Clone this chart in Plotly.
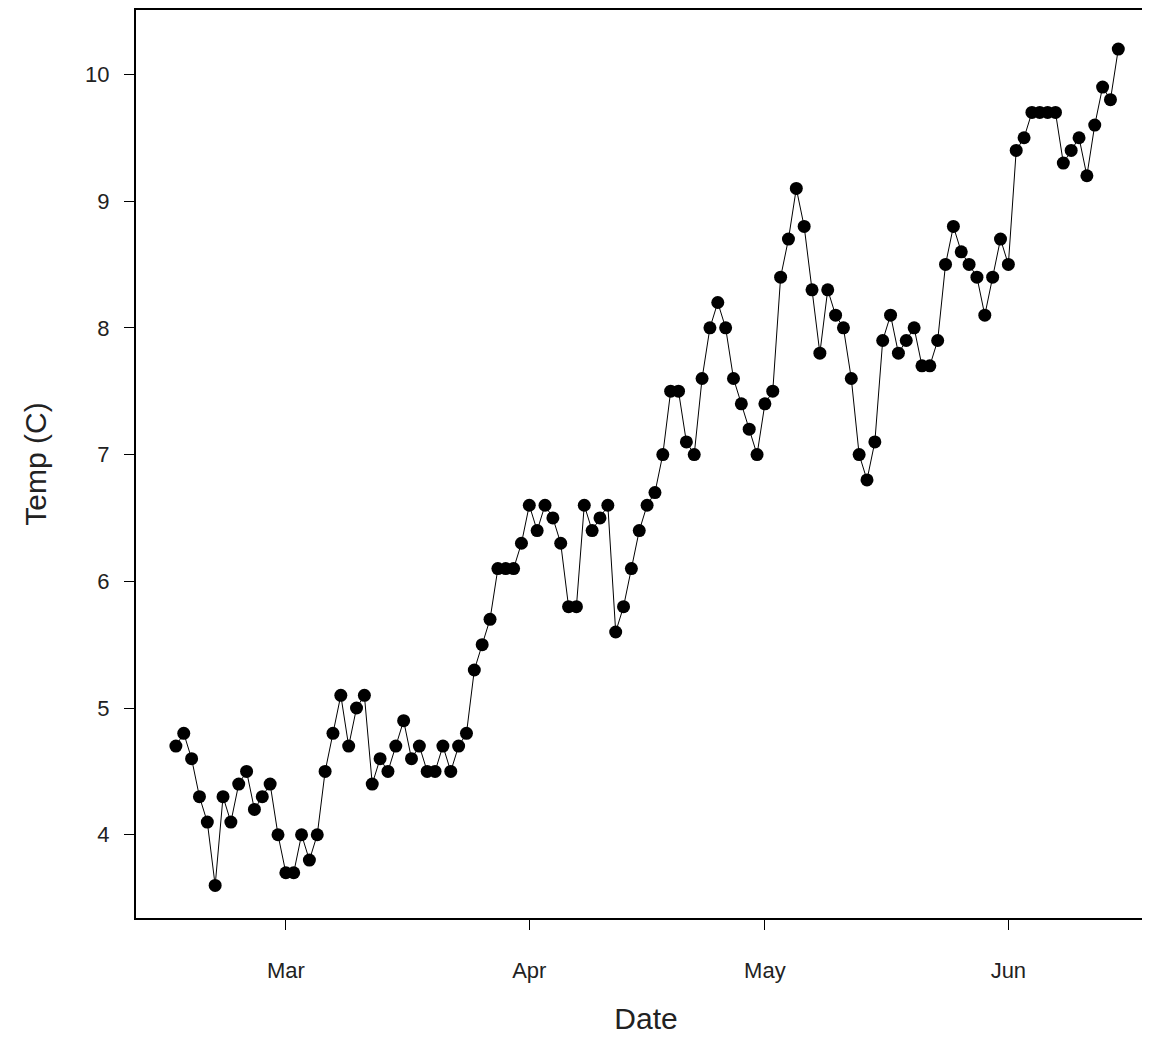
import plotly.graph_objects as go
import pandas as pd

start_date = "2015-02-15"
temps = [4.7,4.8,4.6,4.3,4.1,3.6,4.3,4.1,4.4,4.5,
         4.2,4.3,4.4,4.0,3.7,3.7,4.0,3.8,4.0,4.5,
         4.8,5.1,4.7,5.0,5.1,4.4,4.6,4.5,4.7,4.9,
         4.6,4.7,4.5,4.5,4.7,4.5,4.7,4.8,5.3,5.5,
         5.7,6.1,6.1,6.1,6.3,6.6,6.4,6.6,6.5,6.3,
         5.8,5.8,6.6,6.4,6.5,6.6,5.6,5.8,6.1,6.4,
         6.6,6.7,7.0,7.5,7.5,7.1,7.0,7.6,8.0,8.2,
         8.0,7.6,7.4,7.2,7.0,7.4,7.5,8.4,8.7,9.1,
         8.8,8.3,7.8,8.3,8.1,8.0,7.6,7.0,6.8,7.1,
         7.9,8.1,7.8,7.9,8.0,7.7,7.7,7.9,8.5,8.8,
         8.6,8.5,8.4,8.1,8.4,8.7,8.5,9.4,9.5,9.7,
         9.7,9.7,9.7,9.3,9.4,9.5,9.2,9.6,9.9,9.8,
         10.2]
tick_dates = ["2015-03-01", "2015-04-01", "2015-05-01", "2015-06-01"]
tick_labels = ["Mar", "Apr", "May", "Jun"]
y_ticks = [4, 5, 6, 7, 8, 9, 10]

dates = pd.date_range(start_date, periods=len(temps), freq="D")
x0 = pd.Timestamp(start_date)

fig = go.Figure(go.Scatter(
    x=dates, y=temps, mode="lines+markers",
    line=dict(color="black", width=1),
    marker=dict(color="black", size=13),
))
font = "Liberation Sans, Arial, sans-serif"
fig.update_layout(
    width=1150, height=1051,
    margin=dict(l=128, r=0, t=0, b=141),
    paper_bgcolor="white", plot_bgcolor="white",
    showlegend=False,
    font=dict(family=font, color="#222", size=22),
    xaxis=dict(
        range=[x0 - pd.Timedelta(days=5.08), x0 + pd.Timedelta(days=124.8)],
        tickvals=tick_dates, ticktext=tick_labels,
        ticks="outside", ticklen=10, tickcolor="black", tickwidth=1,
        ticklabelstandoff=22,
        showgrid=False, zeroline=False,
        showline=True, linecolor="black", linewidth=2, mirror=True,
        tickfont=dict(size=22), title=dict(text="Date", font=dict(size=30), standoff=26),
    ),
    yaxis=dict(
        range=[3.343, 10.508], tickvals=y_ticks,
        ticks="outside", ticklen=10, tickcolor="black", tickwidth=1,
        ticklabelstandoff=10,
        showgrid=False, zeroline=False,
        showline=True, linecolor="black", linewidth=2, mirror=True,
        tickfont=dict(size=22), title=dict(text="Temp (C)", font=dict(size=30), standoff=30),
    ),
)
fig.write_html("out.html")
